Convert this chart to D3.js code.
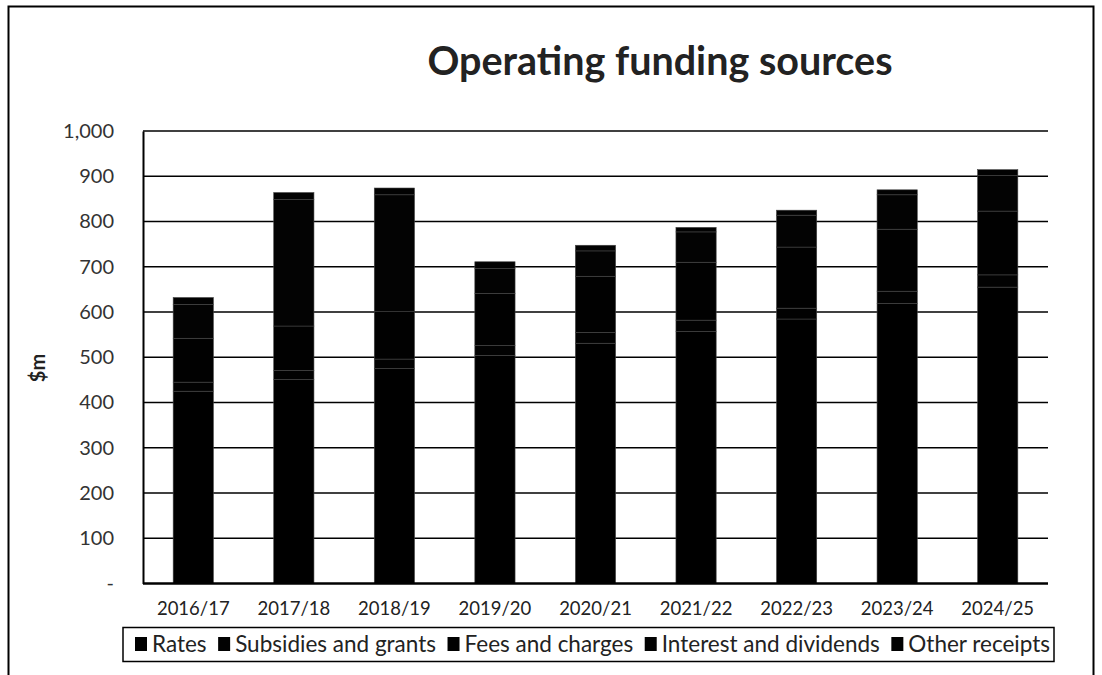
<!DOCTYPE html>
<html>
<head>
<meta charset="utf-8">
<script src="https://cdn.jsdelivr.net/npm/d3@7"></script>
<style>
  html, body { margin: 0; padding: 0; background: #fff; }
  svg { display: block; font-family: Lato, "Open Sans", sans-serif; }
</style>
</head>
<body>
<svg id="chart" width="1102" height="675"></svg>
<script>
// Financial years on the x axis
const years = ["2016/17", "2017/18", "2018/19", "2019/20", "2020/21", "2021/22", "2022/23", "2023/24", "2024/25"];

// Funding sources ($m), stacked bottom to top in this order
const seriesNames = ["Rates", "Subsidies and grants", "Fees and charges", "Interest and dividends", "Other receipts"];
const rates        = [425, 451, 475, 504, 531, 557, 584.5, 619, 655];
const subsidies    = [20, 20, 21, 22, 24, 25, 24, 27, 27];
const fees         = [97, 98, 105, 115, 124, 128, 135, 137, 141];
const interest     = [75, 280, 258, 55, 56, 67, 70.5, 76, 79];
const otherReceipts = [15, 15, 15, 15, 12.5, 10, 11, 11, 12.5];

// Y axis tick values and their printed labels
const yTicks = [0, 100, 200, 300, 400, 500, 600, 700, 800, 900, 1000];
const yTickLabels = ["-", "100", "200", "300", "400", "500", "600", "700", "800", "900", "1,000"];

const seriesValues = [rates, subsidies, fees, interest, otherReceipts];
const rows = years.map((y, i) => {
  const r = { year: y };
  seriesNames.forEach((n, k) => { r[n] = seriesValues[k][i]; });
  return r;
});

const fills = ["#000000", "#020202", "#010101", "#030303", "#020202"];

const svg = d3.select("#chart");

// Outer frame
svg.append("rect")
  .attr("x", 8.5).attr("y", 6.5)
  .attr("width", 1085).attr("height", 700)
  .attr("fill", "none").attr("stroke", "#000").attr("stroke-width", 2);

// Title
svg.append("text")
  .attr("x", 660).attr("y", 75)
  .attr("text-anchor", "middle")
  .attr("font-size", 39.5).attr("font-weight", "bold")
  .attr("fill", "#222")
  .text("Operating funding sources");

const plot = { left: 143, right: 1048, top: 131, bottom: 583.5 };

const x = d3.scaleBand().domain(years)
  .range([plot.left, plot.right])
  .paddingInner(0.6).paddingOuter(0.3);

const y = d3.scaleLinear().domain([0, 1000]).range([plot.bottom, plot.top]);

// Horizontal gridlines
svg.append("g")
  .selectAll("line")
  .data(yTicks.slice(1))
  .join("line")
  .attr("x1", plot.left).attr("x2", plot.right)
  .attr("y1", d => y(d)).attr("y2", d => y(d))
  .attr("stroke", "#000").attr("stroke-width", 1.5);

// Stacked bars
const stack = d3.stack().keys(seriesNames);
const layers = stack(rows);

svg.append("g")
  .selectAll("g")
  .data(layers)
  .join("g")
  .attr("fill", (d, i) => fills[i])
  .selectAll("rect")
  .data(d => d)
  .join("rect")
  .attr("x", d => x(d.data.year))
  .attr("width", x.bandwidth())
  .attr("y", d => y(d[1]))
  .attr("height", d => y(d[0]) - y(d[1]))
  .attr("stroke", "#444")
  .attr("stroke-width", 0.6);

// Y axis
const yAxis = d3.axisLeft(y)
  .tickValues(yTicks)
  .tickFormat((d, i) => yTickLabels[i])
  .tickSize(0)
  .tickPadding(29);

const gy = svg.append("g")
  .attr("transform", `translate(${plot.left},0)`)
  .call(yAxis);
gy.select(".domain").attr("stroke", "#000").attr("stroke-width", 2);
gy.selectAll("text").attr("font-size", 20).attr("fill", "#333").attr("font-family", "Lato, sans-serif");

// X axis baseline and labels
const xAxis = d3.axisBottom(x).tickSize(0).tickPadding(18);
const gx = svg.append("g")
  .attr("transform", `translate(0,${plot.bottom})`)
  .call(xAxis);
gx.select(".domain").attr("stroke", "#000").attr("stroke-width", 2.5)
  .attr("d", `M${plot.left},0H${plot.right}`);
gx.selectAll("text").attr("font-size", 18.5).attr("fill", "#222").attr("font-family", "Lato, sans-serif");

// Y axis title
svg.append("text")
  .attr("transform", "translate(45,368) rotate(-90)")
  .attr("text-anchor", "middle")
  .attr("font-size", 20).attr("font-weight", "bold")
  .attr("fill", "#222")
  .text("$m");

// Legend: items laid out left to right so they fill the framed box
const legend = svg.append("g");
legend.append("rect")
  .attr("x", 123).attr("y", 627.5)
  .attr("width", 931).attr("height", 34)
  .attr("fill", "#fff").attr("stroke", "#000").attr("stroke-width", 1.5);

const legendStart = 135, legendEnd = 1050, swatch = 12, swatchGap = 5;
const items = legend.selectAll("g.item")
  .data(seriesNames)
  .join("g")
  .attr("class", "item");
items.append("rect")
  .attr("x", 0).attr("y", 637)
  .attr("width", swatch).attr("height", 14)
  .attr("fill", (d, i) => fills[i]);
const labels = items.append("text")
  .attr("x", swatch + swatchGap).attr("y", 652)
  .attr("font-size", 22.5)
  .attr("fill", "#222")
  .text(d => d);

const widths = labels.nodes().map(n => n.getComputedTextLength());
const used = d3.sum(widths) + seriesNames.length * (swatch + swatchGap);
const gap = Math.max(4, (legendEnd - legendStart - used) / (seriesNames.length - 1));
let cursor = legendStart;
items.attr("transform", (d, i) => {
  const t = `translate(${cursor},0)`;
  cursor += swatch + swatchGap + widths[i] + gap;
  return t;
});
</script>
</body>
</html>
